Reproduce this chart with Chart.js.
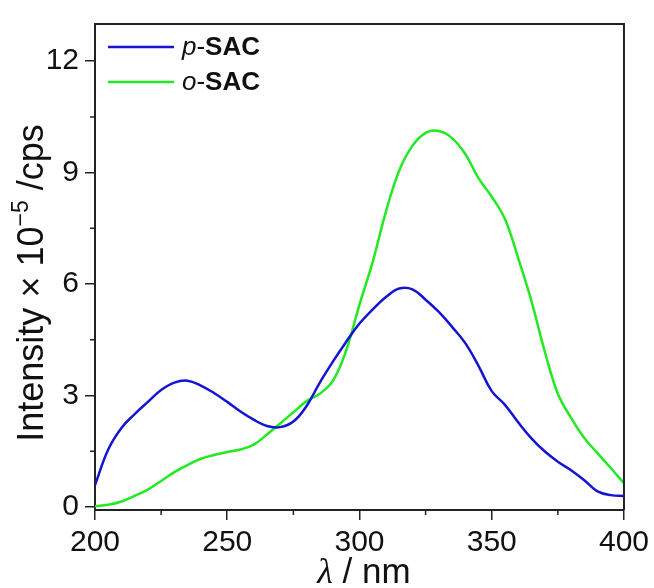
<!DOCTYPE html>
<html>
<head>
<meta charset="utf-8">
<script src="https://cdn.jsdelivr.net/npm/chart.js@4.4.0/dist/chart.umd.min.js"></script>
<style>
  body { margin: 0; background: #fff; }
  #wrap { width: 654px; height: 588px; }
</style>
</head>
<body>
<div id="wrap"><canvas id="mycanvas"></canvas></div>
<script>
// wavelength in nm
var wavelength = [200, 205, 210, 215, 220, 225, 230, 235, 240, 245, 250, 255, 260, 265, 270, 275, 280, 285, 290, 295,
                  300, 305, 310, 315, 320, 325, 330, 335, 340, 345, 350, 355, 360, 365, 370, 375, 380, 385, 390, 395, 400];
// intensity x 10^-5 cps
var pSAC = [0.59, 1.55, 2.13, 2.50, 2.83, 3.15, 3.35, 3.40, 3.27, 3.07, 2.83, 2.57, 2.35, 2.18, 2.15, 2.30, 2.72, 3.35, 3.92, 4.45,
            4.94, 5.32, 5.65, 5.88, 5.86, 5.58, 5.25, 4.85, 4.41, 3.80, 3.12, 2.75, 2.28, 1.85, 1.50, 1.22, 0.99, 0.72, 0.42, 0.32, 0.30];
var oSAC = [0.02, 0.06, 0.15, 0.30, 0.47, 0.70, 0.94, 1.13, 1.30, 1.40, 1.48, 1.55, 1.68, 1.95, 2.25, 2.55, 2.85, 3.05, 3.40, 4.22,
            5.45, 6.60, 7.95, 9.05, 9.72, 10.07, 10.12, 9.93, 9.50, 8.85, 8.35, 7.75, 6.70, 5.55, 4.20, 3.05, 2.40, 1.86, 1.45, 1.05, 0.64];
var xTicks = [200, 250, 300, 350, 400];
var yTicks = [0, 3, 6, 9, 12];
var xMinor = [225, 275, 325, 375];
var yMinor = [1.5, 4.5, 7.5, 10.5];

function pts(ys) {
    var out = [];
    for (var i in wavelength) {
        out.push({x: wavelength[i], y: ys[i]});
    }
    return out;
}

var ink = '#222';

var extras = {
    id: 'extras',
    afterDraw: function(chart) {
        var ctx = chart.ctx;
        var a = chart.chartArea;
        var xs = chart.scales.x, ys = chart.scales.y;
        ctx.save();
        // frame top / right
        ctx.strokeStyle = ink;
        ctx.lineWidth = 2;
        ctx.beginPath();
        ctx.moveTo(a.left, a.top);
        ctx.lineTo(a.right, a.top);
        ctx.lineTo(a.right, a.bottom);
        ctx.stroke();
        // minor ticks
        ctx.lineWidth = 1.5;
        ctx.beginPath();
        xMinor.forEach(function(v) {
            var px = xs.getPixelForValue(v);
            ctx.moveTo(px, a.bottom);
            ctx.lineTo(px, a.bottom + 5);
        });
        yMinor.forEach(function(v) {
            var py = ys.getPixelForValue(v);
            ctx.moveTo(a.left, py);
            ctx.lineTo(a.left - 5, py);
        });
        ctx.stroke();

        // legend
        ctx.textBaseline = 'middle';
        ctx.fillStyle = '#111';
        chart.data.datasets.forEach(function(ds, i) {
            var y = 47 + i * 35;
            ctx.strokeStyle = ds.borderColor;
            ctx.lineWidth = 2.5;
            ctx.beginPath();
            ctx.moveTo(108, y);
            ctx.lineTo(174, y);
            ctx.stroke();
            var x = 182;
            ctx.font = 'italic 26px "Liberation Sans"';
            ctx.fillText(ds.prefix, x, y + 1);
            x += ctx.measureText(ds.prefix).width;
            ctx.font = '26px "Liberation Sans"';
            ctx.fillText('-', x, y + 1);
            x += ctx.measureText('-').width;
            ctx.font = 'bold 26px "Liberation Sans"';
            ctx.fillText(ds.name, x, y + 1);
        });

        // x title
        ctx.textBaseline = 'alphabetic';
        var lam = '\u03bb';
        var rest = ' / nm';
        ctx.font = 'italic 36px "Liberation Serif"';
        var w1 = ctx.measureText(lam).width;
        ctx.font = '35px "Liberation Sans"';
        var w2 = ctx.measureText(rest).width;
        var cx = 364;
        var sx = cx - (w1 + w2) / 2;
        ctx.font = 'italic 36px "Liberation Serif"';
        ctx.fillText(lam, sx, 583);
        ctx.font = '35px "Liberation Sans"';
        ctx.fillText(rest, sx + w1, 583);

        // y title
        ctx.translate(43, 283);
        ctx.rotate(-Math.PI / 2);
        var t1 = 'Intensity \u00d7 10';
        var t2 = '\u22125';
        var t3 = ' /cps';
        ctx.font = '36px "Liberation Sans"';
        var a1 = ctx.measureText(t1).width;
        var a3 = ctx.measureText(t3).width;
        ctx.font = '23px "Liberation Sans"';
        var a2 = ctx.measureText(t2).width;
        var tx = -(a1 + a2 + a3) / 2;
        ctx.font = '36px "Liberation Sans"';
        ctx.fillText(t1, tx, 0);
        ctx.font = '23px "Liberation Sans"';
        ctx.fillText(t2, tx + a1, -15);
        ctx.font = '36px "Liberation Sans"';
        ctx.fillText(t3, tx + a1 + a2, 0);
        ctx.restore();
    }
};

var ctx = document.getElementById('mycanvas');
var myChart = new Chart(ctx, {
    type: 'line',
    data: {
        datasets: [{
            prefix: 'p', name: 'SAC',
            data: pts(pSAC),
            borderColor: '#1414d2',
            borderWidth: 2.5,
            pointRadius: 0,
            tension: 0.4
        }, {
            prefix: 'o', name: 'SAC',
            data: pts(oSAC),
            borderColor: '#22ea22',
            borderWidth: 2.5,
            pointRadius: 0,
            tension: 0.4
        }]
    },
    options: {
        responsive: true,
        maintainAspectRatio: false,
        animation: false,
        layout: { padding: { top: 14, right: 27, left: 0, bottom: 0 } },
        plugins: { legend: { display: false }, tooltip: { enabled: false } },
        scales: {
            x: {
                type: 'linear',
                min: 200, max: 400,
                afterBuildTicks: function(s) { s.ticks = xTicks.map(function(v) { return {value: v}; }); },
                afterFit: function(s) { s.height = 78; },
                grid: { drawOnChartArea: false, drawTicks: true, tickLength: 10, color: ink, lineWidth: 1.5 },
                border: { display: true, color: ink, width: 2 },
                ticks: { color: '#111', padding: 5, maxRotation: 0, font: { family: 'Liberation Sans', size: 30 } }
            },
            y: {
                type: 'linear',
                min: -0.08, max: 13,
                afterBuildTicks: function(s) { s.ticks = yTicks.map(function(v) { return {value: v}; }); },
                afterFit: function(s) { s.width = 95; },
                grid: { drawOnChartArea: false, drawTicks: true, tickLength: 10, color: ink, lineWidth: 1.5 },
                border: { display: true, color: ink, width: 2 },
                ticks: { color: '#111', padding: 6, font: { family: 'Liberation Sans', size: 30 } }
            }
        }
    },
    plugins: [extras]
});
</script>
</body>
</html>
